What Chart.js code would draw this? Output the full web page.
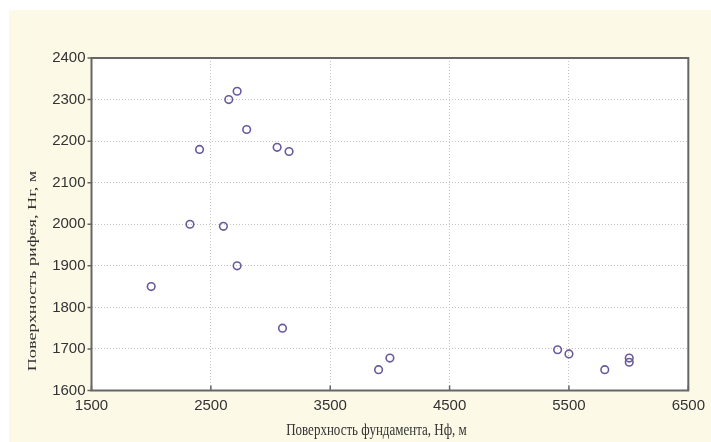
<!DOCTYPE html>
<html>
<head>
<meta charset="utf-8">
<script src="https://cdn.jsdelivr.net/npm/chart.js@4/dist/chart.umd.min.js"></script>
<style>
    html, body { margin: 0; padding: 0; background: #ffffff; }
    #wrap { width: 711px; height: 442px; }
</style>
</head>
<body>
<div id="wrap"><canvas id="scatter" width="711" height="442"></canvas></div>
<script>
// глубины: фундамент (Нф) и рифей (Нг), м
const foundationDepth = [2325, 2605, 2405, 2650, 2720, 2800, 3055, 3155, 2000, 2720, 3100, 3905, 4000, 5405, 5500, 5800, 6005, 6005];
const ripheanDepth = [2000, 1995, 2180, 2300, 2320, 2228, 2185, 2175, 1850, 1900, 1750, 1650, 1678, 1698, 1688, 1650, 1678, 1668];

const xTicks = [1500, 2500, 3500, 4500, 5500, 6500];
const yTicks = [1600, 1700, 1800, 1900, 2000, 2100, 2200, 2300, 2400];

const xTitle = 'Поверхность фундамента, Нф, м';
const yTitle = 'Поверхность рифея, Нг, м';

const points = foundationDepth.map((x, i) => ({ x: x, y: ripheanDepth[i] }));

// фон, рамка, засечки и подписи осей
const decor = {
    id: 'decor',
    beforeDraw(chart) {
        const ctx = chart.ctx;
        const a = chart.chartArea;
        ctx.save();
        ctx.fillStyle = '#fdf9e7';
        ctx.fillRect(9, 10, chart.width - 9, chart.height - 10);
        ctx.fillStyle = '#ffffff';
        ctx.fillRect(a.left, a.top, a.right - a.left, a.bottom - a.top);
        ctx.restore();
    },
    afterDraw(chart) {
        const ctx = chart.ctx;
        const a = chart.chartArea;
        const xs = chart.scales.x;
        const ys = chart.scales.y;
        ctx.save();
        ctx.strokeStyle = '#666666';
        ctx.lineWidth = 2;
        ctx.strokeRect(a.left, a.top, a.right - a.left, a.bottom - a.top);

        ctx.lineWidth = 1.5;
        ctx.beginPath();
        xTicks.forEach(v => {
            const px = xs.getPixelForValue(v);
            ctx.moveTo(px, a.bottom);
            ctx.lineTo(px, a.bottom - 5);
        });
        yTicks.forEach(v => {
            const py = ys.getPixelForValue(v);
            ctx.moveTo(a.left, py);
            ctx.lineTo(a.left - 4, py);
        });
        ctx.stroke();

        ctx.fillStyle = '#333333';
        ctx.font = '13px "Liberation Serif", "Times New Roman", serif';
        ctx.textAlign = 'center';
        ctx.textBaseline = 'middle';

        ctx.save();
        ctx.translate(a.left + 285, a.bottom + 40);
        ctx.scale(1, 1.25);
        ctx.fillText(xTitle, 0, 0);
        ctx.restore();

        ctx.save();
        ctx.translate(33, a.top + 213);
        ctx.rotate(-Math.PI / 2);
        ctx.scale(1.4, 1);
        ctx.fillText(yTitle, 0, 0);
        ctx.restore();
        ctx.restore();
    }
};

const tickFont = { family: 'Arial, "Liberation Sans", Helvetica, sans-serif', size: 15 };

new Chart(document.getElementById('scatter'), {
    type: 'scatter',
    data: {
        datasets: [{
            data: points,
            borderColor: '#6a5a9c',
            backgroundColor: 'rgba(255,255,255,0)',
            borderWidth: 1.6,
            pointRadius: 3.8,
            pointHoverRadius: 3.8
        }]
    },
    options: {
        responsive: false,
        animation: false,
        events: [],
        layout: { padding: { left: 0, top: 58, right: 21, bottom: 0 } },
        plugins: {
            legend: { display: false },
            tooltip: { enabled: false }
        },
        scales: {
            x: {
                type: 'linear',
                min: 1500,
                max: 6500,
                afterBuildTicks: s => { s.ticks = xTicks.map(v => ({ value: v })); },
                afterFit: s => { s.height = 51.5; },
                grid: { color: '#c4c4c4', lineWidth: 1, drawTicks: false },
                border: { display: false, dash: [1, 2] },
                ticks: {
                    color: '#333333',
                    padding: 6,
                    font: tickFont,
                    callback: v => String(v)
                }
            },
            y: {
                type: 'linear',
                min: 1600,
                max: 2400,
                afterBuildTicks: s => { s.ticks = yTicks.map(v => ({ value: v })); },
                afterFit: s => { s.width = 91.5; },
                grid: { color: '#c4c4c4', lineWidth: 1, drawTicks: false },
                border: { display: false, dash: [1, 2] },
                ticks: {
                    color: '#333333',
                    padding: 6,
                    font: tickFont,
                    callback: v => String(v)
                }
            }
        }
    },
    plugins: [decor]
});
</script>
</body>
</html>
